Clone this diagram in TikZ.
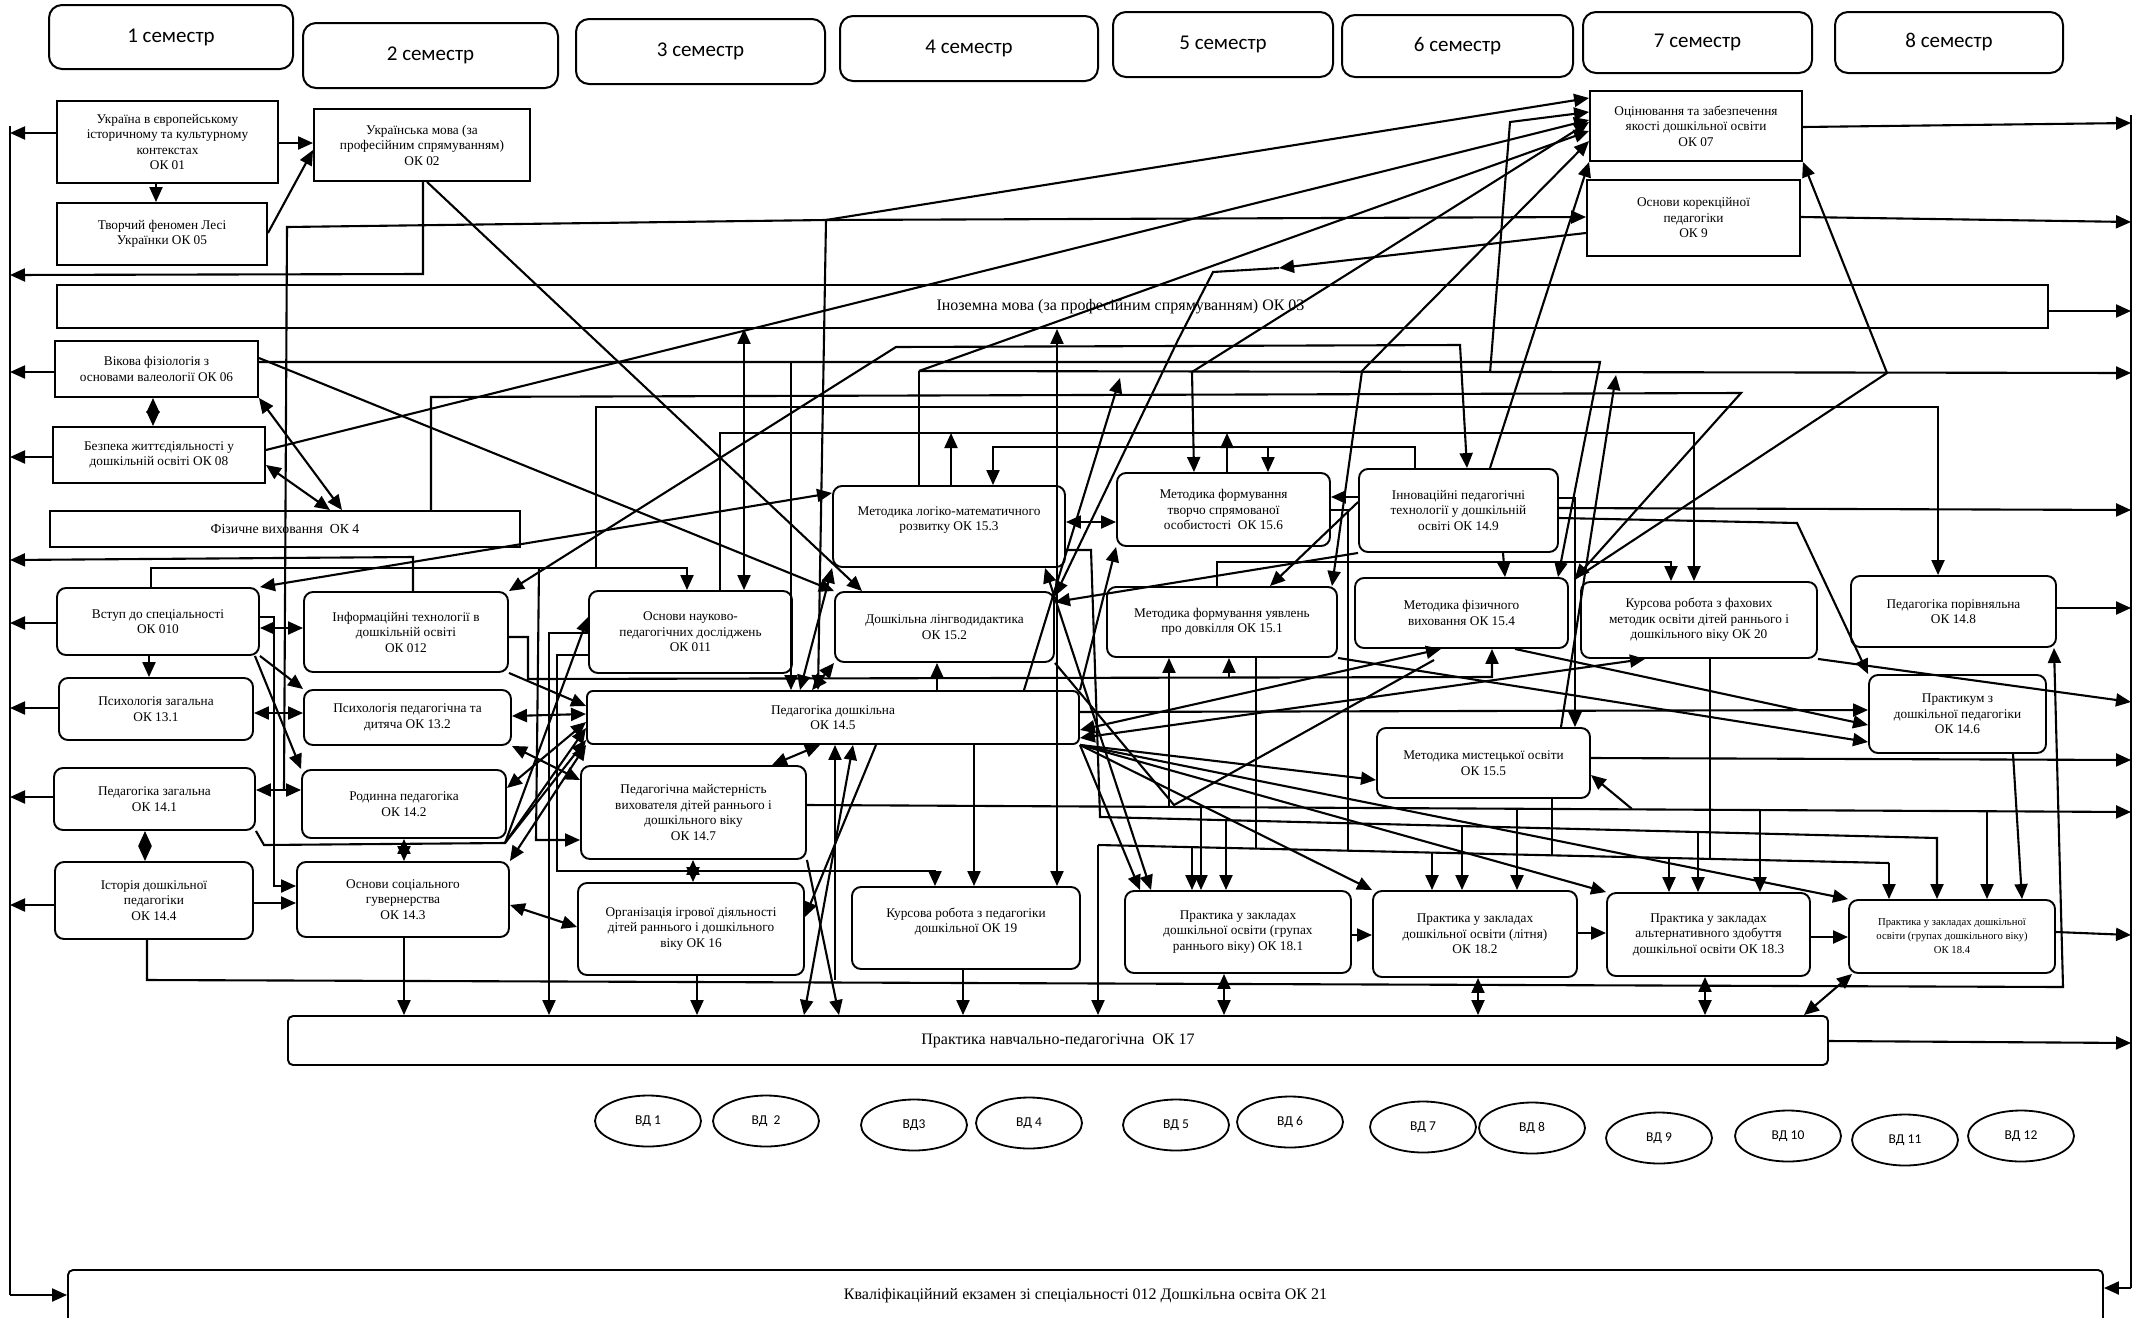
\documentclass[tikz,border=0pt]{standalone}
\usepackage{fontspec}
\setmainfont{Liberation Serif}
\newfontfamily\semf{Carlito}
\usetikzlibrary{arrows.meta,calc,shapes.geometric}
\newcommand\bx[7]{%
 \pgfmathsetmacro\bxW{#4-#2}%
 \pgfmathsetmacro\bxH{#5-#3}%
 \pgfmathsetmacro\bxX{(#2+#4)/2}%
 \pgfmathsetmacro\bxY{(#3+#5)/2}%
 \node[#6, minimum width=\bxW pt, minimum height=\bxH pt] (#1) at (\bxX,\bxY) {#7};}
\begin{document}
\begin{tikzpicture}[x=1pt,y=-1pt,
 sem/.style={draw, line width=2pt, rounded corners=13pt, inner sep=0pt, font={\semf\fontsize{21}{25}\selectfont}},
 sq/.style={draw, line width=1.9pt, inner sep=0pt, align=center, font={\fontsize{13.3}{15.5}\selectfont}},
 rb/.style={sq, rounded corners=9pt},
 bar/.style={sq, rounded corners=5pt, font={\fontsize{16}{19}\selectfont}},
 vd/.style={ellipse, draw, line width=1.8pt, minimum width=106pt, minimum height=51pt, inner sep=0pt, font={\semf\fontsize{13.5}{16}\selectfont}},
 ln/.style={line width=2.1pt},
 ar/.style={ln, -{Triangle[length=15pt,width=13pt]}},
 dar/.style={ln, {Triangle[length=15pt,width=13pt]}-{Triangle[length=15pt,width=13pt]}}]
\useasboundingbox (0,0) rectangle (2149,1317);
% semesters
\bx{sem1}{49}{5}{293}{69}{sem}{1 семестр}
\bx{sem2}{303}{23}{558}{88}{sem}{2 семестр}
\bx{sem3}{576}{19}{825}{84}{sem}{3 семестр}
\bx{sem4}{840}{16}{1098}{81}{sem}{4 семестр}
\bx{sem5}{1113}{12}{1333}{77}{sem}{5 семестр}
\bx{sem6}{1342}{15}{1573}{77}{sem}{6 семестр}
\bx{sem7}{1583}{12}{1812}{73}{sem}{7 семестр}
\bx{sem8}{1835}{12}{2063}{73}{sem}{8 семестр}
% courses
\bx{ua}{57}{101}{278}{183}{sq}{Україна в європейському\\історичному та культурному\\контекстах\\ОК 01}
\bx{tv}{57}{203}{267}{265}{sq}{Творчий феномен Лесі\\Українки ОК 05}
\bx{um}{314}{109}{530}{181}{sq}{Українська мова (за\\професійним спрямуванням)\\ОК 02}
\bx{fl}{57}{285}{2048}{328}{sq,font={\fontsize{16}{19}\selectfont}}{\hspace*{136pt}Іноземна мова (за професійним спрямуванням) ОК 03}
\bx{vf}{55}{341}{258}{397}{sq}{Вікова фізіологія з\\основами валеології ОК 06}
\bx{bz}{53}{427}{265}{483}{sq}{Безпека життєдіяльності у\\дошкільній освіті ОК 08}
\bx{fv}{50}{511}{520}{547}{sq,font={\fontsize{13.8}{16}\selectfont}}{Фізичне виховання~~ОК 4}
\bx{oc}{1590}{91}{1802}{161}{sq}{Оцінювання та забезпечення\\якості дошкільної освіти\\ОК 07}
\bx{ok}{1587}{180}{1800}{256}{sq}{Основи корекційної\\педагогіки\\ОК 9}
\bx{vs}{57}{588}{259}{655}{rb}{Вступ до спеціальності\\ОК 010}
\bx{it}{304}{592}{508}{672}{rb}{Інформаційні технології в\\дошкільній освіті\\ОК 012}
\bx{np}{589}{591}{792}{673}{rb}{Основи науково-\\педагогічних досліджень\\ОК 011}
\bx{pz}{59}{678}{253}{740}{rb}{Психологія загальна\\ОК 13.1}
\bx{pp}{304}{690}{511}{745}{rb}{Психологія педагогічна та\\дитяча ОК 13.2}
\bx{pgz}{54}{768}{255}{830}{rb}{Педагогіка загальна\\ОК 14.1}
\bx{rp}{302}{770}{506}{838}{rb}{Родинна педагогіка\\ОК 14.2}
\bx{id}{55}{862}{253}{939}{rb}{Історія дошкільної\\педагогіки\\ОК 14.4}
\bx{sg}{297}{862}{509}{937}{rb}{Основи соціального\\гувернерства\\ОК 14.3}
\bx{pm}{581}{766}{806}{859}{rb}{Педагогічна майстерність\\вихователя дітей раннього і\\дошкільного віку\\ОК 14.7}
\bx{oi}{578}{883}{804}{975}{rb}{Організація ігрової діяльності\\дітей раннього і дошкільного\\віку ОК 16}
\bx{pd}{587}{691}{1079}{744}{sq,rounded corners=6pt}{Педагогіка дошкільна\\ОК 14.5}
\bx{lm}{833}{486}{1065}{567}{rb}{Методика логіко-математичного\\розвитку ОК 15.3\\\mbox{}}
\bx{ld}{835}{592}{1054}{662}{rb}{Дошкільна лінгводидактика\\ОК 15.2}
\bx{kp}{852}{887}{1080}{969}{rb}{Курсова робота з педагогіки\\дошкільної ОК 19\\\mbox{}}
\bx{tc}{1117}{473}{1330}{546}{rb}{Методика формування\\творчо спрямованої\\особистості~~ОК 15.6}
\bx{dv}{1107}{587}{1337}{657}{rb}{Методика формування уявлень\\про довкілля ОК 15.1}
\bx{inn}{1359}{469}{1558}{552}{rb}{Інноваційні педагогічні\\технології у дошкільній\\освіті ОК 14.9}
\bx{mf}{1355}{578}{1568}{648}{rb}{Методика фізичного\\виховання ОК 15.4}
\bx{kf}{1581}{582}{1817}{658}{rb}{Курсова робота з фахових\\методик освіти дітей раннього і\\дошкільного віку ОК 20}
\bx{ppr}{1851}{576}{2056}{647}{rb}{Педагогіка порівняльна\\ОК 14.8}
\bx{mm}{1377}{728}{1590}{798}{rb}{Методика мистецької освіти\\ОК 15.5}
\bx{pk}{1869}{675}{2046}{753}{rb}{Практикум з\\дошкільної педагогіки\\ОК 14.6}
\bx{p1}{1125}{891}{1351}{973}{rb}{Практика у закладах\\дошкільної освіти (групах\\раннього віку) ОК 18.1}
\bx{p2}{1373}{891}{1577}{977}{rb}{Практика у закладах\\дошкільної освіти (літня)\\ОК 18.2}
\bx{p3}{1607}{893}{1810}{976}{rb}{Практика у закладах\\альтернативного здобуття\\дошкільної освіти ОК 18.3}
\bx{p4}{1849}{900}{2055}{973}{rb,font={\fontsize{10.7}{14}\selectfont}}{Практика у закладах дошкільної\\освіти (групах дошкільного віку)\\ОК 18.4}
\bx{pr}{288}{1016}{1828}{1065}{bar}{Практика навчально-педагогічна~~ОК 17}
\bx{ex}{68}{1270}{2103}{1336}{bar}{Кваліфікаційний екзамен зі спеціальності 012 Дошкільна освіта ОК 21\\\mbox{}}
% elective ellipses
\node[vd] (vd1) at (648,1121) {ВД 1};
\node[vd] (vd2) at (766,1121) {ВД~~2};
\node[vd] (vd3) at (914,1125) {ВД3};
\node[vd] (vd4) at (1029,1123) {ВД 4};
\node[vd] (vd5) at (1176,1125) {ВД 5};
\node[vd] (vd6) at (1290,1122) {ВД 6};
\node[vd] (vd7) at (1423,1127) {ВД 7};
\node[vd] (vd8) at (1532,1128) {ВД 8};
\node[vd] (vd9) at (1659,1138) {ВД 9};
\node[vd] (vd10) at (1788,1136) {ВД 10};
\node[vd] (vd11) at (1905,1140) {ВД 11};
\node[vd] (vd12) at (2021,1136) {ВД 12};
% buses
\coordinate (LB) at (10,126);
\coordinate (LBb) at (10,1295);
\coordinate (RB) at (2131,115);
\coordinate (RBb) at (2131,1288);
\coordinate (P) at ($(mf.north east)!0.5!(kf.north west)$);
\draw[ln] (LB) -- (LBb);
\draw[ar] (LBb) -- (ex.west |- LBb);
\draw[ln] (RB) -- (RBb);
\draw[ar] (RBb) -- (ex.east |- RBb);
% top-left
\draw[ar] (ua.west |- 0,133) -- (LB |- 0,133);
\draw[ar] (ua.east |- 0,143) -- (um.west |- 0,143);
\draw[ar] (156,0 |- ua.south) -- (156,0 |- tv.north);
\draw[ar] (tv.east |- 0,233) -- (um.west |- 0,150);
\draw[ar] (423,0 |- um.south) -- (423,274) -- (LB |- 0,275);
\draw[ar] (427,0 |- um.south) -- (862,0 |- ld.north);
\coordinate (J1) at (826,220);
\draw[ln] (284,790) -- (287,227) -- (J1);
\draw[ar] (J1) -- (oc.west |- 0,98);
\draw[ar] (J1) -- (ok.west |- 0,217);
\draw[ar] (J1) -- (818,0 |- pd.north);
\draw[ar] (oc.east |- 0,127) -- (RB |- 0,123);
\draw[ar] (ok.east |- 0,217) -- (RB |- 0,222);
\draw[ar] (fl.east |- 0,311) -- (RB |- 0,311);
% left column
\draw[ar] (vf.west |- 0,372) -- (LB |- 0,372);
\draw[ar] (bz.west |- 0,457) -- (LB |- 0,457);
\draw[dar] (153,0 |- vf.south) -- (153,0 |- bz.north);
\draw[dar] (vf.south east) -- (342,0 |- fv.north);
\draw[dar] (bz.east |- 0,465) -- (330,0 |- fv.north);
\draw[ar] (vf.east |- 0,362) -- (1600,362) -- (1558,0 |- mf.north);
\draw[ar] (vf.east |- 0,358) -- (ld.north west);
\draw[ar] (bz.east |- 0,450) -- (oc.west |- 0,120);
\draw[ar] (431,0 |- fv.north) -- (431,397) -- (1741,393) -- (P);
\draw[ar] (151,0 |- vs.north) -- (151,568) -- (687,568) -- (687,0 |- np.north);
\draw[ar] (596,568) -- (596,407) -- (1938,407) -- (1938,0 |- ppr.north);
\draw[ar] (720,0 |- np.north) -- (720,433) -- (1694,433) -- (1694,0 |- kf.north);
\draw[dar] (it.north east) -- (896,347) -- (1460,345) -- (1467,0 |- inn.north);
\draw[dar] (vs.north east) -- (lm.west |- 0,493);
\draw[ar] (413,0 |- it.north) -- (413,557) -- (LB |- 0,560);
\draw[ar] (vs.west |- 0,623) -- (LB |- 0,623);
\draw[ar] (149,0 |- vs.south) -- (149,0 |- pz.north);
\draw[dar] (vs.east |- 0,628) -- (it.west |- 0,628);
\draw[ar] (vs.south east) -- (pp.north west);
\draw[ar] ([xshift=-5pt]vs.south east) -- (rp.north west);
\draw[ar] (vs.east |- 0,617) -- (274,617) -- (274,886) -- (sg.west |- 0,886);
\draw[ar] (pz.west |- 0,708) -- (LB |- 0,708);
\draw[dar] (pz.east |- 0,713) -- (pp.west |- 0,713);
\draw[ar] (pgz.west |- 0,797) -- (LB |- 0,797);
\draw[dar] (pgz.east |- 0,790) -- (rp.west |- 0,790);
\draw[dar] (145,0 |- pgz.south) -- (145,0 |- id.north);
\draw[ar] (id.west |- 0,905) -- (LB |- 0,905);
\draw[ar] (id.east |- 0,903) -- (sg.west |- 0,903);
\draw[dar] (404,0 |- rp.south) -- (404,0 |- sg.north);
\coordinate (J2) at (505,843);
\draw[ar] (pgz.south east) -- (264,845) -- (J2) -- (pd.west |- 0,728);
\draw[ar] (J2) -- (np.west |- 0,617);
\draw[ar] (J2) -- (pd.west |- 0,740);
\draw[dar] (rp.east |- 0,788) -- (pd.west |- 0,722);
\draw[dar] (sg.north east) -- (pd.south west);
\draw[dar] (pp.south east) -- (pm.west |- 0,780);
\draw[dar] (pp.east |- 0,716) -- (pd.west |- 0,714);
\draw[ar] (it.south east) -- (pd.west |- 0,706);
\draw[dar] (sg.east |- 0,905) -- (oi.west |- 0,927);
\draw[ar] (147,0 |- id.south) -- (147,980) -- (2063,987) -- (2054,0 |- ppr.south);
\draw[ar] (404,0 |- sg.south) -- (404,0 |- pr.north);
\draw[ar] (697,0 |- oi.south) -- (697,0 |- pr.north);
\draw[dar] (693,0 |- pm.south) -- (693,0 |- oi.north);
\draw[ar] (539,568) -- (536,840) -- (pm.west |- 0,840);
\draw[ar] (np.west |- 0,633) -- (549,633) -- (549,0 |- pr.north);
\draw[ar] (np.west |- 0,655) -- (557,655) -- (557,871) -- (935,871) -- (935,0 |- kp.north);
\draw[ar] (it.east |- 0,637) -- (528,637) -- (528,679) -- (1492,677) -- (1492,0 |- mf.south);
\draw[ar] (1229,678) -- (1229,0 |- dv.south);
\draw[dar] (744,0 |- fl.south) -- (744,0 |- np.north);
\draw[dar] (1057,0 |- fl.south) -- (1057,0 |- kp.north);
% middle upper
\coordinate (J3) at (919,371);
\draw[ln] (919,0 |- lm.north) -- (J3);
\draw[ar] (J3) -- (oc.west |- 0,131);
\draw[ar] (J3) -- (RB |- 0,373);
\draw[ar] (951,0 |- lm.north) -- (951,433);
\draw[ar] (1415,0 |- inn.north) -- (1415,447) -- (993,447) -- (993,0 |- lm.north);
\draw[ar] (1268,447) -- (1268,0 |- tc.north);
\draw[ar] (1227,0 |- tc.north) -- (1227,433);
\draw[dar] (1194,0 |- tc.north) -- (1192,372) -- (oc.west |- 0,122);
\draw[dar] (oc.west |- 0,141) -- (1362,371) -- (1332,0 |- dv.north);
\draw[dar] (lm.east |- 0,522) -- (tc.west |- 0,522);
\draw[ar] (inn.west |- 0,497) -- (tc.east |- 0,497);
\draw[ar] (inn.south west) -- (ld.east |- 0,602);
\draw[ar] (inn.west |- 0,502) -- (1270,0 |- dv.north);
\draw[ar] (1490,0 |- inn.north) -- (oc.south west);
\draw[ar] (1490,373) -- (1510,122) -- (oc.west |- 0,112);
\draw[ar] (P) -- (1887,373) -- (oc.south east);
\draw[ar] (inn.east |- 0,508) -- (RB |- 0,510);
\draw[ar] (inn.east |- 0,498) -- (1575,498) -- (1575,0 |- mm.north);
\draw[ar] (inn.east |- 0,518) -- (1797,523) -- (pk.north west);
\draw[ar] (1561,0 |- mm.north) -- (1616,375);
\draw[ar] (1503,0 |- inn.south) -- (1505,0 |- mf.north);
\draw[ar] (1217,0 |- dv.north) -- (1217,562) -- (1671,562) -- (1671,0 |- kf.north);
\draw[ar] (ok.west |- 0,233) -- (1279,268);
\draw[ar] (1279,268) -- (1213,272) -- (1178,340) -- (ld.east |- 0,596);
\draw[ar] (1024,0 |- pd.north) -- (1120,378);
\draw[ar] (pd.north east) -- (tc.south west);
\draw[dar] (1045,0 |- lm.south) -- (1151,0 |- p1.north);
% fan from pd
\draw[ar] (pd.south east) -- (mm.west |- 0,780);
\draw[ar] (pd.south east) -- (p2.north west);
\draw[ar] (pd.south east) -- (1140,0 |- p1.north);
\draw[ar] (pd.south east) -- (p3.north west);
\draw[ar] (pd.south east) -- (p4.north west);
\draw[dar] (pd.east |- 0,738) -- (1645,0 |- kf.south);
\draw[ar] (pd.east |- 0,712) -- (pk.west |- 0,710);
\draw[dar] (pd.east |- 0,730) -- (1441,0 |- mf.south);
\draw[ln] (ld.south east) -- (1174,805) -- (1434,660);
% pm line to bus
\draw[ar] (pm.east |- 0,805) -- (RB |- 0,812);
\draw[ar] (1169,807) -- (1169,0 |- dv.south);
\draw[ar] (1201,807) -- (1201,0 |- p1.north);
\draw[ar] (1517,809) -- (1517,0 |- p2.north);
\draw[ar] (1760,810) -- (1760,0 |- p3.north);
\draw[ar] (1987,811) -- (1987,0 |- p4.north);
\draw[ar] (1632,809) -- (mm.east |- 0,775);
% lm line
\draw[ar] (lm.east |- 0,550) -- (1091,550) -- (1100,817) -- (1937,838) -- (1937,0 |- p4.north);
\draw[ar] (1226,820) -- (1226,0 |- p1.north);
\draw[ar] (1462,826) -- (1462,0 |- p2.north);
\draw[ar] (1698,832) -- (1698,0 |- p3.north);
% H845
\draw[ln] (1098,845) -- (1889,863);
\draw[ar] (1098,845) -- (1098,0 |- pr.north);
\draw[ar] (1889,863) -- (1889,0 |- p4.north);
\draw[ar] (1192,847) -- (1192,0 |- p1.north);
\draw[ar] (1432,853) -- (1432,0 |- p2.north);
\draw[ar] (1669,858) -- (1669,0 |- p3.north);
\draw[ln] (1552,0 |- mm.south) -- (1552,855);
\draw[ln] (1710,0 |- kf.south) -- (1710,859);
\draw[ln] (tc.east |- 0,510) -- (1348,510) -- (1348,851);
\draw[ln] (1256,0 |- dv.south) -- (1256,849);
% practices
\draw[ar] (p1.east |- 0,935) -- (p2.west |- 0,935);
\draw[ar] (p2.east |- 0,933) -- (p3.west |- 0,933);
\draw[ar] (p3.east |- 0,937) -- (p4.west |- 0,937);
\draw[ar] (p4.east |- 0,932) -- (RB |- 0,935);
\draw[dar] (1224,0 |- p1.south) -- (1224,0 |- pr.north);
\draw[dar] (1478,0 |- p2.south) -- (1478,0 |- pr.north);
\draw[dar] (1705,0 |- p3.south) -- (1705,0 |- pr.north);
\draw[dar] (1852,0 |- p4.south) -- (1804,0 |- pr.north);
\draw[ar] (pr.east |- 0,1041) -- (RB |- 0,1043);
\draw[ar] (2013,0 |- pk.south) -- (2022,0 |- p4.north);
\draw[ar] (kf.south east) -- (RB |- 0,702);
\draw[ar] (ppr.east |- 0,608) -- (RB |- 0,608);
\draw[ar] (mm.east |- 0,758) -- (RB |- 0,760);
\draw[ar] (1515,0 |- mf.south) -- (pk.west |- 0,725);
\draw[ar] (dv.south east) -- (pk.west |- 0,742);
% pd top / bottom
\draw[ar] (791,362) -- (791,0 |- pd.north);
\draw[dar] (800,0 |- pd.north) -- (lm.south west);
\draw[dar] (812,0 |- pd.north) -- (ld.south west);
\draw[ar] (937,0 |- pd.north) -- (937,0 |- ld.south);
\draw[dar] (772,0 |- pm.north) -- (820,0 |- pd.south);
\draw[dar] (853,0 |- pd.south) -- (804,0 |- pr.north);
\draw[ar] (876,0 |- pd.south) -- (oi.east |- 0,917);
\draw[ar] (835,980) -- (835,0 |- pd.south);
\draw[ar] (pm.south east) -- (839,0 |- pr.north);
\draw[ar] (974,0 |- pd.south) -- (974,0 |- kp.north);
\draw[ar] (963,0 |- kp.south) -- (963,0 |- pr.north);
\end{tikzpicture}
\end{document}
